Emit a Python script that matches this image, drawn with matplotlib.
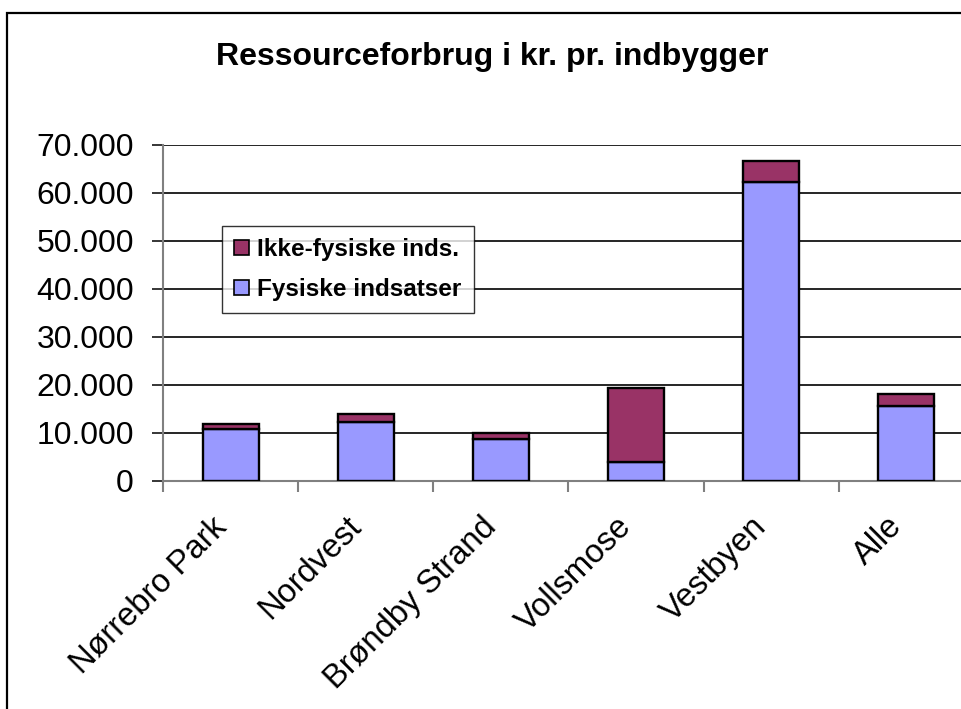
import matplotlib
matplotlib.use("Agg")
import matplotlib.pyplot as plt
import matplotlib.transforms as mtransforms
from matplotlib.patches import Rectangle, Patch
from matplotlib.ticker import FuncFormatter, FixedLocator
import numpy as np

plt.rcParams['font.family'] = ['Liberation Sans', 'DejaVu Sans']

categories = ["Nørrebro Park", "Nordvest", "Brøndby Strand", "Vollsmose", "Vestbyen", "Alle"]
fysiske = [10800, 12100, 8700, 3800, 62100, 15450]
ikke_fysiske = [1050, 1800, 1100, 15450, 4500, 2550]
title = "Ressourceforbrug i kr. pr. indbygger"
series_names = ["Ikke-fysiske inds.", "Fysiske indsatser"]
yticks = [0, 10000, 20000, 30000, 40000, 50000, 60000, 70000]

col_fys = "#9999FF"
col_ikke = "#993366"

W, H = 962, 709
fig = plt.figure(figsize=(W / 100, H / 100), dpi=100)

# outer chart border (cropped on the right and bottom)
fig.patches.append(Rectangle((7.5 / W, -0.1), 1.2, (H - 12.5) / H + 0.1,
                             transform=fig.transFigure, fill=False,
                             edgecolor="black", linewidth=1.6, zorder=0))

ax_l, ax_r = 163 / W, 974 / W
ax_b, ax_t = (H - 480.5) / H, (H - 144.5) / H
ax = fig.add_axes([ax_l, ax_b, ax_r - ax_l, ax_t - ax_b])

x = np.arange(len(categories))
bw = 0.415
ax.bar(x, fysiske, width=bw, color=col_fys, edgecolor="black", linewidth=1.7, zorder=3)
ax.bar(x, ikke_fysiske, bottom=fysiske, width=bw, color=col_ikke,
       edgecolor="black", linewidth=1.7, zorder=3)

ax.set_xlim(-0.5, len(categories) - 0.5)
ax.set_ylim(0, 70000)
ax.set_yticks(yticks)
ax.yaxis.set_major_formatter(FuncFormatter(lambda v, p: f"{int(v):,}".replace(",", ".")))
ax.grid(axis="y", color="black", linewidth=1.2, zorder=1)
ax.set_axisbelow(True)

for s in ["top", "right"]:
    ax.spines[s].set_visible(False)
ax.spines["left"].set_color("#808080")
ax.spines["bottom"].set_color("#808080")
ax.spines["left"].set_linewidth(1.5)
ax.spines["bottom"].set_linewidth(1.5)

ax.tick_params(axis="y", which="major", length=8, width=1.1, color="black",
               labelsize=23, pad=13)

# category labels at centers, boundary ticks as minor
ax.set_xticks(x)
ax.set_xticklabels(categories, rotation=45, ha="right", rotation_mode="anchor")
ax.xaxis.set_minor_locator(FixedLocator(np.arange(-0.5, len(categories), 1.0)))
ax.tick_params(axis="x", which="major", length=0, labelsize=23.5, pad=22)
ax.tick_params(axis="x", which="minor", length=8, width=1.5, color="#808080")
offset = mtransforms.ScaledTranslation(-20 / 100, 0, fig.dpi_scale_trans)
for lab in ax.get_xticklabels():
    lab.set_transform(lab.get_transform() + offset)

fig.text(492 / W, (H - 57) / H, title, ha="center", va="center",
         fontsize=23, fontweight="bold")

handles = [Patch(facecolor=col_ikke, edgecolor="black", linewidth=1.2),
           Patch(facecolor=col_fys, edgecolor="black", linewidth=1.2)]
leg = ax.legend(handles, series_names, loc="upper left",
                bbox_to_anchor=((222 - 163) / 811, (480.5 - 226) / 336),
                prop={"weight": "bold", "size": 17.5}, frameon=True, fancybox=False,
                handlelength=0.6, handleheight=0.6, handletextpad=0.35,
                borderpad=0.5, labelspacing=0.7, borderaxespad=0)
leg.get_frame().set_edgecolor("black")
leg.get_frame().set_linewidth(1.0)
leg.set_zorder(5)

fig.savefig("out.png", dpi=100)
